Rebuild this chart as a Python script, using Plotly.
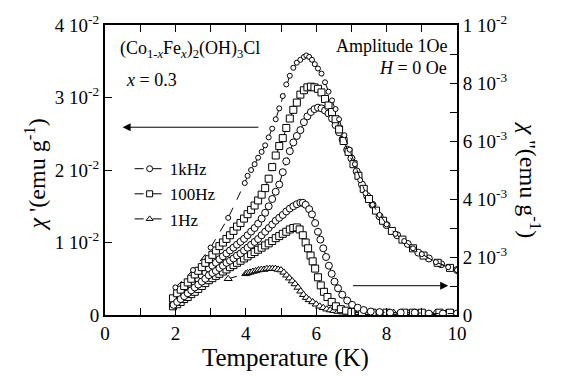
import plotly.graph_objects as go

FONT = "Liberation Serif"

# ---------------- chi' (left axis, units of 1e-2 emu/g) ----------------
# 1 Hz (highest chi' peak, small markers)
T_re_1Hz = [2.0, 2.5, 3.0, 3.5, 3.97, 4.05, 4.15, 4.25, 4.35, 4.45, 4.55, 4.65, 4.75, 4.85,
            4.95, 5.05, 5.15, 5.25, 5.35, 5.45, 5.55, 5.65, 5.72, 5.8, 5.88, 5.96, 6.05, 6.15,
            6.25, 6.35, 6.45, 6.55, 6.65, 6.8, 6.95, 7.1, 7.25, 7.4, 7.6, 7.8, 8.0, 8.25, 8.5,
            8.75, 9.0, 9.4, 9.75, 10.0]
re_1Hz = [0.38, 0.62, 0.93, 1.34, 1.82, 1.92, 2.0, 2.08, 2.17, 2.25, 2.34, 2.45, 2.57, 2.7,
          2.85, 3.02, 3.18, 3.3, 3.41, 3.48, 3.52, 3.56, 3.58, 3.56, 3.52, 3.46, 3.4, 3.33,
          3.21, 3.08, 2.96, 2.84, 2.7, 2.48, 2.28, 2.08, 1.86, 1.68, 1.52, 1.38, 1.25, 1.12,
          1.02, 0.92, 0.84, 0.73, 0.66, 0.62]

# 100 Hz (squares)
T_re_100Hz = [1.93, 2.05, 2.15, 2.25, 2.35, 2.45, 2.55, 2.65, 2.75, 2.85, 2.95, 3.05, 3.15,
              3.25, 3.35, 3.45, 3.55, 3.65, 3.75, 3.85, 3.95, 4.05, 4.15, 4.25, 4.35, 4.45,
              4.55, 4.65, 4.75, 4.85, 4.95, 5.05, 5.15, 5.25, 5.35, 5.45, 5.55, 5.65, 5.75,
              5.85, 5.95, 6.05, 6.15, 6.25, 6.35, 6.45, 6.55, 6.65, 6.78, 6.92, 7.06, 7.2,
              7.35, 7.5, 7.7, 7.9, 8.15, 8.45, 8.75, 9.05, 9.45, 9.8]
re_100Hz = [0.23, 0.3, 0.35, 0.4, 0.45, 0.5, 0.56, 0.61, 0.66, 0.72, 0.77, 0.83, 0.89, 0.95,
            1.0, 1.05, 1.1, 1.16, 1.22, 1.27, 1.33, 1.39, 1.45, 1.51, 1.58, 1.66, 1.75, 1.88,
            2.04, 2.2, 2.33, 2.44, 2.58, 2.71, 2.83, 2.93, 3.04, 3.1, 3.14, 3.15, 3.14, 3.12,
            3.07, 2.98, 2.89, 2.8, 2.7, 2.56, 2.4, 2.25, 2.08, 1.92, 1.74, 1.6, 1.44, 1.3,
            1.16, 1.04, 0.92, 0.82, 0.72, 0.65]

# 1 kHz (circles)
T_re_1kHz = [1.95, 2.05, 2.15, 2.25, 2.35, 2.45, 2.55, 2.65, 2.75, 2.85, 2.95, 3.05, 3.15,
             3.25, 3.35, 3.45, 3.55, 3.65, 3.75, 3.85, 3.95, 4.05, 4.15, 4.25, 4.35, 4.45,
             4.55, 4.65, 4.75, 4.85, 4.95, 5.05, 5.15, 5.25, 5.35, 5.45, 5.55, 5.65, 5.75,
             5.85, 5.95, 6.05, 6.15, 6.25, 6.35, 6.45, 6.55, 6.65, 6.75, 6.88, 7.0, 7.15,
             7.3, 7.45, 7.6, 7.8, 8.0, 8.3, 8.6, 8.9, 9.2, 9.55, 10.0]
re_1kHz = [0.17, 0.21, 0.25, 0.3, 0.35, 0.4, 0.44, 0.49, 0.54, 0.59, 0.64, 0.68, 0.72, 0.77,
           0.81, 0.85, 0.89, 0.93, 0.97, 1.01, 1.05, 1.1, 1.15, 1.2, 1.26, 1.33, 1.41, 1.5,
           1.6, 1.7, 1.8, 1.97, 2.12, 2.26, 2.38, 2.47, 2.55, 2.66, 2.74, 2.8, 2.84, 2.86,
           2.85, 2.82, 2.78, 2.71, 2.62, 2.52, 2.42, 2.28, 2.16, 1.98, 1.8, 1.64, 1.52, 1.36,
           1.24, 1.1, 0.98, 0.86, 0.78, 0.7, 0.62]

# ---------------- chi'' (right axis, units of 1e-3 emu/g) ----------------
T_im_1kHz = [1.95, 2.05, 2.15, 2.25, 2.35, 2.45, 2.55, 2.65, 2.75, 2.85, 2.95, 3.05, 3.15,
             3.25, 3.35, 3.45, 3.55, 3.65, 3.75, 3.85, 3.95, 4.05, 4.15, 4.25, 4.35, 4.45,
             4.55, 4.65, 4.75, 4.85, 4.95, 5.05, 5.15, 5.25, 5.35, 5.45, 5.55, 5.62, 5.7,
             5.8, 5.88, 5.97, 6.05, 6.12, 6.2, 6.28, 6.36, 6.44, 6.52, 6.62, 6.74, 6.88,
             7.02, 7.18, 7.35, 7.55, 7.8, 8.1, 8.4, 8.8, 9.2, 9.6, 10.0]
im_1kHz = [0.35, 0.45, 0.55, 0.65, 0.75, 0.85, 0.95, 1.05, 1.15, 1.25, 1.37, 1.45, 1.52,
           1.62, 1.7, 1.8, 1.87, 1.95, 2.05, 2.12, 2.22, 2.32, 2.42, 2.52, 2.62, 2.75, 2.87,
           3.0, 3.12, 3.25, 3.35, 3.45, 3.57, 3.67, 3.75, 3.82, 3.87, 3.87, 3.8, 3.65, 3.47,
           3.17, 2.87, 2.6, 2.3, 2.0, 1.7, 1.42, 1.15, 0.92, 0.7, 0.5, 0.35, 0.25, 0.17,
           0.12, 0.1, 0.08, 0.08, 0.08, 0.05, 0.05, 0.05]

T_im_100Hz = [1.93, 2.05, 2.15, 2.25, 2.35, 2.45, 2.55, 2.65, 2.75, 2.85, 2.95, 3.05, 3.15,
              3.25, 3.35, 3.45, 3.55, 3.65, 3.75, 3.85, 3.95, 4.05, 4.15, 4.25, 4.35, 4.45,
              4.55, 4.65, 4.75, 4.85, 4.95, 5.05, 5.15, 5.25, 5.35, 5.45, 5.53, 5.62, 5.7,
              5.77, 5.84, 5.9, 5.97, 6.05, 6.13, 6.22, 6.32, 6.44, 6.56, 6.7, 6.85, 7.0,
              7.3, 7.6, 8.0, 8.5, 8.75, 9.0, 9.5, 9.8]
im_100Hz = [0.3, 0.37, 0.45, 0.55, 0.62, 0.72, 0.8, 0.9, 1.0, 1.1, 1.2, 1.27, 1.35, 1.42,
            1.5, 1.57, 1.65, 1.72, 1.8, 1.87, 1.95, 2.02, 2.1, 2.17, 2.25, 2.32, 2.4, 2.47,
            2.55, 2.65, 2.72, 2.8, 2.87, 2.95, 3.0, 3.02, 2.95, 2.75, 2.5, 2.3, 2.05, 1.85,
            1.6, 1.3, 1.02, 0.8, 0.62, 0.45, 0.3, 0.2, 0.15, 0.1, 0.08, 0.08, 0.08, 0.08,
            0.08, 0.08, 0.08, 0.08]

T_im_1Hz = [3.5, 4.0, 4.05, 4.12, 4.2, 4.28, 4.36, 4.44, 4.52, 4.6, 4.68, 4.76, 4.84, 4.92,
            5.0, 5.08, 5.16, 5.24, 5.32, 5.4, 5.48, 5.56, 5.64, 5.72, 5.8, 5.9, 6.0, 6.1,
            6.2, 6.3, 6.4, 6.5, 6.62, 6.75, 6.9, 7.05, 7.2, 7.4, 7.6, 7.8, 8.0, 8.2, 8.6,
            8.9, 9.4, 9.7]
im_1Hz = [1.25, 1.42, 1.45, 1.47, 1.5, 1.52, 1.55, 1.57, 1.57, 1.6, 1.6, 1.6, 1.6, 1.57,
          1.55, 1.47, 1.37, 1.27, 1.17, 1.07, 0.95, 0.82, 0.7, 0.6, 0.52, 0.45, 0.37, 0.3,
          0.25, 0.2, 0.17, 0.15, 0.12, 0.1, 0.1, 0.08, 0.08, 0.08, 0.08, 0.08, 0.08, 0.08,
          0.08, 0.08, 0.08, 0.08]

y_left_ticks = [0, 0.01, 0.02, 0.03, 0.04]
y_left_text = ["0", "1 10<sup>-2</sup>", "2 10<sup>-2</sup>", "3 10<sup>-2</sup>", "4 10<sup>-2</sup>"]
y_right_ticks = [0, 0.002, 0.004, 0.006, 0.008, 0.010]
y_right_text = ["0", "2 10<sup>-3</sup>", "4 10<sup>-3</sup>", "6 10<sup>-3</sup>",
                "8 10<sup>-3</sup>", "1 10<sup>-2</sup>"]
x_ticks = [0, 2, 4, 6, 8, 10]

fig = go.Figure()


def add(T, vals, scale, yaxis, symbol, size, name, showlegend):
    fig.add_trace(go.Scatter(
        x=T, y=[v * scale for v in vals], yaxis=yaxis, mode="lines+markers",
        name=name, showlegend=showlegend,
        line=dict(color="black", width=1, dash="dash"),
        marker=dict(symbol=symbol, size=size, color="white",
                    line=dict(color="black", width=1)),
    ))


# chi' curves
add(T_re_1kHz, re_1kHz, 1e-2, "y", "circle", 7, "1kHz", False)
add(T_re_100Hz, re_100Hz, 1e-2, "y", "square", 7, "100Hz", False)
add(T_re_1Hz, re_1Hz, 1e-2, "y", "circle", 5, "1Hz", False)
# chi'' curves
add(T_im_1Hz, im_1Hz, 1e-3, "y2", "triangle-up", 7, "1Hz", False)
add(T_im_100Hz, im_100Hz, 1e-3, "y2", "square", 7, "100Hz", False)
add(T_im_1kHz, im_1kHz, 1e-3, "y2", "circle", 7, "1kHz", False)

# legend entries
for nm, sym in [("1kHz", "circle"), ("100Hz", "square"), ("1Hz", "triangle-up")]:
    fig.add_trace(go.Scatter(
        x=[None], y=[None], mode="lines+markers", name=nm, showlegend=True,
        line=dict(color="black", width=1, dash="dash"),
        marker=dict(symbol=sym, size=6, color="white", line=dict(color="black", width=1)),
    ))

axis_common = dict(showline=True, linewidth=2, linecolor="black", showgrid=False,
                   zeroline=False, ticks="inside", ticklen=7, tickwidth=1.2,
                   tickcolor="black", tickfont=dict(family=FONT, size=19, color="black"))

fig.update_layout(
    width=561, height=376,
    margin=dict(l=105, r=104, t=19, b=61),
    paper_bgcolor="white", plot_bgcolor="white",
    font=dict(family=FONT, size=19, color="black"),
    xaxis=dict(range=[0, 10], tickvals=x_ticks, mirror="allticks",
               minor=dict(tickvals=[1, 3, 5, 7, 9], ticks="inside", ticklen=5,
                          tickcolor="black"),
               **axis_common),
    yaxis=dict(range=[0, 0.04], tickvals=y_left_ticks, ticktext=y_left_text,
               mirror=True, **axis_common),
    yaxis2=dict(range=[0, 0.01], overlaying="y", side="right", tickvals=y_right_ticks,
                ticktext=y_right_text,
                minor=dict(tickvals=[0.001, 0.003, 0.005, 0.007, 0.009], ticks="inside",
                           ticklen=7, tickcolor="black"),
                **axis_common),
    legend=dict(x=0.07, y=0.565, xanchor="left", yanchor="top", bgcolor="rgba(0,0,0,0)",
                font=dict(family=FONT, size=17), tracegroupgap=0, itemwidth=30),
    showlegend=True,
)

ann = [
    dict(text="(Co<sub>1-<i>x</i></sub>Fe<sub><i>x</i></sub>)<sub>2</sub>(OH)<sub>3</sub>Cl",
         x=0.036, y=0.916, xanchor="left", yanchor="middle", size=18),
    dict(text="<i>x</i> = 0.3", x=0.053, y=0.811, xanchor="left", yanchor="middle", size=18),
    dict(text="Amplitude 1Oe", x=0.977, y=0.929, xanchor="right", yanchor="middle", size=18),
    dict(text="<i>H</i> = 0 Oe", x=0.977, y=0.851, xanchor="right", yanchor="middle", size=18),
    dict(text="Temperature (K)", x=0.513, y=-0.148, xanchor="center", yanchor="middle", size=25),
]
for a in ann:
    fig.add_annotation(text=a["text"], x=a["x"], y=a["y"], xref="paper", yref="paper",
                       xanchor=a["xanchor"], yanchor=a["yanchor"], showarrow=False,
                       font=dict(family=FONT, size=a["size"], color="black"))

fig.add_annotation(text="<i>χ</i> '(emu g<sup>-1</sup>)", x=-0.2, y=0.483, xref="paper",
                   yref="paper", textangle=-90, showarrow=False, xanchor="center",
                   yanchor="middle", font=dict(family=FONT, size=24, color="black"))
fig.add_annotation(text="<i>χ</i> ''(emu g<sup>-1</sup>)", x=1.208, y=0.466, xref="paper",
                   yref="paper", textangle=90, showarrow=False, xanchor="center",
                   yanchor="middle", font=dict(family=FONT, size=24, color="black"))

# arrows
fig.add_annotation(x=0.5, y=0.0259, ax=4.4, ay=0.0259, xref="x", yref="y", axref="x",
                   ayref="y", text="", showarrow=True, arrowhead=2, arrowsize=1.6,
                   arrowwidth=1, arrowcolor="black")
fig.add_annotation(x=9.75, y=0.00101, ax=7.0, ay=0.00101, xref="x", yref="y2", axref="x",
                   ayref="y2", text="", showarrow=True, arrowhead=2, arrowsize=1.6,
                   arrowwidth=1, arrowcolor="black")

fig.write_html("out.html")
